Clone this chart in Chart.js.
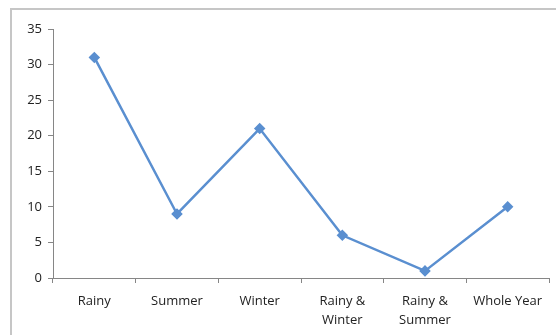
<!DOCTYPE html>
<html>
<head>
<meta charset="utf-8">
<script src="https://cdn.jsdelivr.net/npm/chart.js@4"></script>
<style>
    html, body { margin: 0; padding: 0; background: #fff; }
    #wrap { position: relative; width: 556px; height: 335px; overflow: hidden; }
    #frame {
        position: absolute; left: 10px; top: 8px; width: 600px; height: 400px;
        border: 2px solid #c6c6c6; pointer-events: none;
    }
    canvas { position: absolute; left: 0; top: 0; }
</style>
</head>
<body>
<div id="wrap">
    <canvas id="seasonChart" width="556" height="335"></canvas>
    <div id="frame"></div>
</div>
<script>
const categories = [['Rainy'], ['Summer'], ['Winter'], ['Rainy &', 'Winter'], ['Rainy &', 'Summer'], ['Whole Year']];
const counts = [31, 9, 21, 6, 1, 10];
const yTicks = [0, 5, 10, 15, 20, 25, 30, 35];

const axisColor = '#868686';
const labelFont = { family: '"Open Sans", "DejaVu Sans", sans-serif', size: 13, lineHeight: 1.45 };

const ctx = document.getElementById('seasonChart').getContext('2d');
new Chart(ctx, {
    type: 'line',
    data: {
        labels: categories,
        datasets: [{
            data: counts,
            borderColor: '#5A8FD0',
            backgroundColor: '#5A8FD0',
            borderWidth: 2.5,
            pointStyle: 'rectRot',
            pointRadius: 4,
            pointHoverRadius: 4,
            tension: 0,
            fill: false
        }]
    },
    options: {
        responsive: false,
        animation: false,
        plugins: { legend: { display: false }, tooltip: { enabled: false } },
        layout: { padding: { left: 0, right: 7, top: 29, bottom: 0 } },
        scales: {
            x: {
                offset: true,
                grid: { offset: true, drawOnChartArea: false, drawTicks: true, tickLength: 5, color: axisColor },
                border: { color: axisColor, width: 1 },
                ticks: { color: '#222', font: labelFont, padding: 9, maxRotation: 0, autoSkip: false },
                afterFit: scale => { scale.height = 57; }
            },
            y: {
                min: 0,
                max: 35,
                afterBuildTicks: scale => { scale.ticks = yTicks.map(v => ({ value: v })); },
                grid: { drawOnChartArea: false, drawTicks: true, tickLength: 5, color: axisColor },
                border: { color: axisColor, width: 1 },
                ticks: { color: '#222', font: labelFont, padding: 6 },
                afterFit: scale => { scale.width = 53; }
            }
        }
    }
});
</script>
</body>
</html>
